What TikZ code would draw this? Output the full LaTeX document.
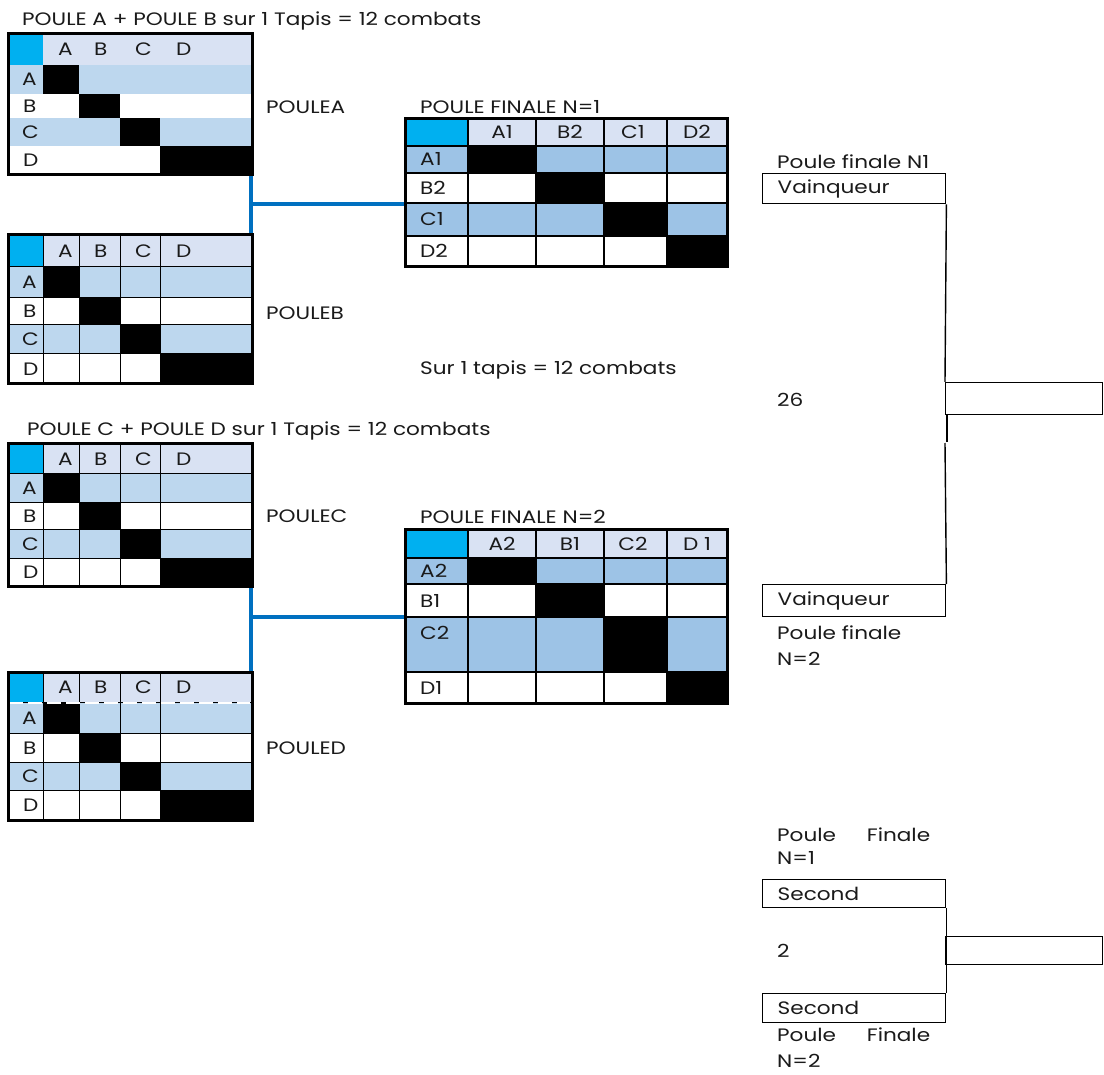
\documentclass[tikz,border=0pt]{standalone}
\usepackage{fontspec}
\setmainfont{Poppins}[FakeStretch=1.2]
\definecolor{cyanc}{HTML}{00B0F0}
\definecolor{hdr}{HTML}{D9E2F3}
\definecolor{pshade}{HTML}{BDD7EE}
\definecolor{fshade}{HTML}{9DC3E6}
\definecolor{lnblue}{HTML}{0070C0}
\definecolor{txtc}{HTML}{1A1A1A}
\newcommand{\fs}{\fontsize{18}{22}\selectfont}
% pool table: #1 name, #2..#7 row boundaries
\newcommand{\pooltab}[7]{%
  \fill[cyanc] (8,#2) rectangle (43,#3);
  \fill[hdr] (43,#2) rectangle (252,#3);
  \fill[pshade] (8,#3) rectangle (252,#4);
  \fill[pshade] (8,#5) rectangle (252,#6);
  \fill (43,#3) rectangle (79,#4);
  \fill (79,#4) rectangle (120,#5);
  \fill (120,#5) rectangle (160,#6);
  \fill (160,#6) rectangle (252,#7);
  \node[txt] (#1-hA) at (58,{(#2+#3)/2+6.5}) {A};
  \node[txt] (#1-hB) at (94,{(#2+#3)/2+6.5}) {B};
  \node[txt] (#1-hC) at (135,{(#2+#3)/2+6.5}) {C};
  \node[txt] (#1-hD) at (176,{(#2+#3)/2+6.5}) {D};
  \node[txt] (#1-rA) at (22,{(#3+#4)/2+6.5}) {A};
  \node[txt] (#1-rB) at (23,{(#4+#5)/2+6.5}) {B};
  \node[txt] (#1-rC) at (22,{(#5+#6)/2+6.5}) {C};
  \node[txt] (#1-rD) at (23,{(#6+#7)/2+6.5}) {D};
}
\newcommand{\poolgrid}[6]{%
  \foreach \xx in {43,79,120,160} {\draw[gridl] (\xx,#1) -- (\xx,#6);}
  \foreach \yy in {#2,#3,#4,#5} {\draw[gridl] (8,\yy) -- (252,\yy);}
}
\newcommand{\poolborder}[2]{\draw[line width=3pt] (8,#1) rectangle (252,#2);}
% final table: #1..#6 row boundaries
\newcommand{\fintab}[6]{%
  \fill[cyanc] (405,#1) rectangle (468,#2);
  \fill[hdr] (468,#1) rectangle (727,#2);
  \fill[fshade] (405,#2) rectangle (727,#3);
  \fill[fshade] (405,#4) rectangle (727,#5);
  \fill (468,#2) rectangle (536,#3);
  \fill (536,#3) rectangle (604,#4);
  \fill (604,#4) rectangle (667,#5);
  \fill (667,#5) rectangle (727,#6);
  \foreach \xx in {468,536,604,667} {\draw[gridl2] (\xx,#1) -- (\xx,#6);}
  \foreach \yy in {#2,#3,#4,#5} {\draw[gridl2] (405,\yy) -- (727,\yy);}
  \draw[line width=3pt] (405,#1) rectangle (727,#6);
}
\begin{document}
\begin{tikzpicture}[x=1pt,y=-1pt,
  txt/.style={inner sep=0pt, anchor=base west, font=\fs, text=txtc},
  ctxt/.style={inner sep=0pt, anchor=base, font=\fs, text=txtc},
  gridl/.style={line width=1pt, black},
  gridl2/.style={line width=1.3pt, black},
  link/.style={draw=lnblue, line width=3.5pt},
  brline/.style={line width=1.4pt},
  brbox/.style={draw, line width=1.4pt, anchor=north west, minimum width=183pt,
    inner xsep=15pt, inner ysep=0pt, text width=153pt, align=left, font=\fs, text=txtc},
  endbox/.style={draw, line width=1.4pt, anchor=north west, minimum width=157pt, inner sep=0pt},
]
\useasboundingbox[fill=white] (0,0) rectangle (1104,1075);

% titles and labels
\node[txt] (t1) at (22,25.5) {POULE A + POULE B sur 1 Tapis = 12 combats};
\node[txt] (t2) at (27,435.5) {POULE C + POULE D sur 1 Tapis = 12 combats};
\node[txt] (lA) at (266,113.5) {POULEA};
\node[txt] (lB) at (266,319.5) {POULEB};
\node[txt] (lC) at (266,522.5) {POULEC};
\node[txt] (lD) at (266,754.5) {POULED};
\node[txt] (lF1) at (420,113.5) {POULE FINALE N=1};
\node[txt] (lF2) at (420,523.5) {POULE FINALE N=2};
\node[txt] (tapis) at (420,374.5) {Sur 1 tapis = 12 combats};

% blue links
\coordinate (pA) at (251,175);
\coordinate (pB) at (251,235);
\coordinate (f1) at (405,204);
\coordinate (pC) at (251,585);
\coordinate (pD) at (251,672);
\coordinate (f2) at (405,617);
\draw[link] (pA) -- (pB);
\draw[link] (pA |- f1) -- (f1);
\draw[link] (pC) -- (pD);
\draw[link] (pC |- f2) -- (f2);

% pool tables
\pooltab{pa}{34}{65}{94}{118}{146}{175}
\poolborder{34}{175}

\pooltab{pb}{235}{267}{298}{325}{354}{384}
\poolgrid{235}{267}{298}{325}{354}{384}
\poolborder{235}{384}

\pooltab{pc}{444}{473}{502}{529}{558}{586}
\poolgrid{444}{473}{502}{529}{558}{586}
\poolborder{444}{586}

\pooltab{pd}{672}{702}{733}{762}{790}{820}
\poolgrid{672}{702}{733}{762}{790}{820}
\draw[white, line width=1.2pt, dash pattern=on 14pt off 5pt] (9,703) -- (250,703);
\poolborder{672}{820}

% final table 1
\fintab{119}{146}{173}{203}{236}{267}
\node[ctxt] (f1hA) at (502,139) {A1};
\node[ctxt] (f1hB) at (570,139) {B2};
\node[ctxt] (f1hC) at (633,139) {C1};
\node[ctxt] (f1hD) at (697,139) {D2};
\node[txt] (f1rA) at (420,166) {A1};
\node[txt] (f1rB) at (420,194.5) {B2};
\node[txt] (f1rC) at (420,226) {C1};
\node[txt] (f1rD) at (420,258) {D2};

% final table 2
\fintab{529}{558}{584}{617}{672}{703}
\node[ctxt] (f2hA) at (502,550) {A2};
\node[ctxt] (f2hB) at (570,550) {B1};
\node[ctxt] (f2hC) at (633,550) {C2};
\node[ctxt] (f2hD) at (697,550) {D 1};
\node[txt] (f2rA) at (420,577.5) {A2};
\node[txt] (f2rB) at (420,607) {B1};
\node[txt] (f2rC) at (420,639) {C2};
\node[txt] (f2rD) at (420,694) {D1};

% bracket 1
\node[txt] (pf1) at (777,168.5) {Poule finale N1};
\node[brbox, minimum height=30pt] (v1) at (762,173) {Vainqueur};
\node[endbox, minimum height=32pt] (r1) at (945,382) {};
\node[txt] (n26) at (777,406.5) {26};
\node[brbox, minimum height=32pt] (v2) at (762,584) {Vainqueur};
\node[txt] (pf2a) at (777,639.5) {Poule finale};
\node[txt] (pf2b) at (777,665.5) {N=2};
\coordinate (k1) at (947,442);
\coordinate (k2) at (945,443);
\draw[brline] (v1.south east) -- (r1.north west);
\draw[brline] (r1.south west -| k1) -- (k1);
\draw[brline] (k2) -- (v2.north east);

% bracket 2
\node[txt] (pf3a) at (777,841.5) {\hbox to 153pt{Poule\hfill Finale}};
\node[txt] (pf3b) at (777,864.5) {N=1};
\node[brbox, minimum height=28pt] (s1) at (762,879) {Second};
\node[endbox, minimum height=28pt] (r2) at (945,936) {};
\node[txt] (n2) at (777,957.5) {2};
\node[brbox, minimum height=29pt] (s2) at (762,993) {Second};
\node[txt] (pf4a) at (777,1041.5) {\hbox to 153pt{Poule\hfill Finale}};
\node[txt] (pf4b) at (777,1067.5) {N=2};
\draw[brline] (s1.south east) -- (s2.north east);
\end{tikzpicture}
\end{document}
